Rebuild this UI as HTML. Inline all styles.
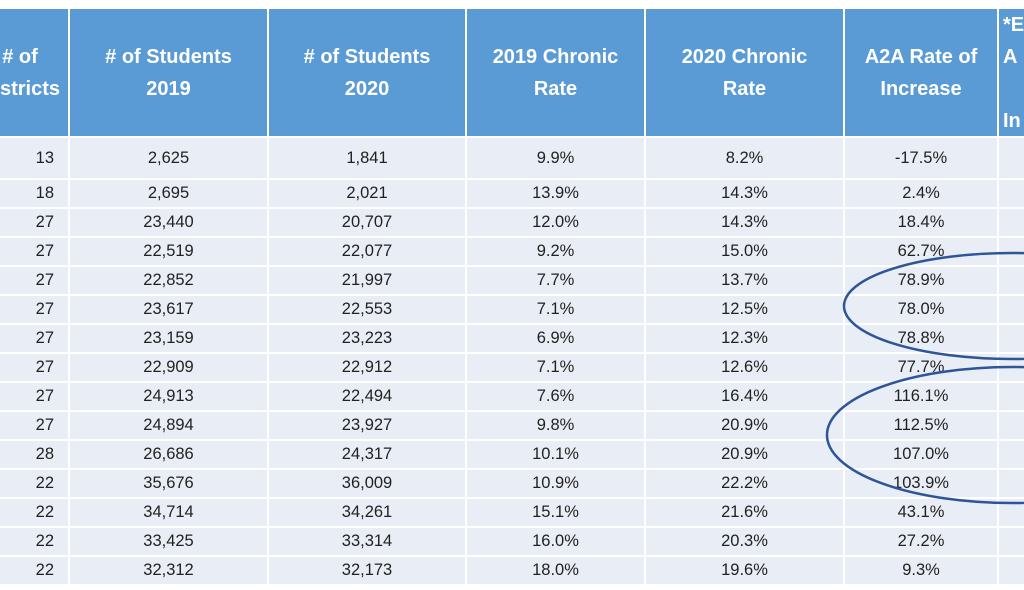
<!DOCTYPE html><html><head><style>
body{margin:0;width:1024px;height:590px;background:#fff;overflow:hidden;position:relative;font-family:"Liberation Sans",sans-serif}
.c{position:absolute;box-sizing:border-box;display:flex;align-items:center;justify-content:center;text-align:center}
.h{background:#5b9bd5;color:#fff;font-weight:bold;font-size:20px;line-height:32px}
.b{background:#e9edf5;color:#222;font-size:16.5px}
</style></head><body>
<div id="t"></div>
<svg style="position:absolute;left:0;top:0" width="1024" height="590">
<ellipse cx="1012" cy="306" rx="168" ry="53" fill="none" stroke="#2e5596" stroke-width="2.5"/>
<ellipse cx="1012" cy="435" rx="185" ry="68" fill="none" stroke="#2e5596" stroke-width="2.5"/>
</svg>
<script>
(function(){
var xs=[-60,70,269,467,646,845,999,1150];
var hd=["# of<br>Districts","# of Students<br>2019","# of Students<br>2020","2019 Chronic<br>Rate","2020 Chronic<br>Rate","A2A Rate of<br>Increase","*E<br>A<br><br>In"];
var d=[["13","2,625","1,841","9.9%","8.2%","-17.5%"],["18","2,695","2,021","13.9%","14.3%","2.4%"],["27","23,440","20,707","12.0%","14.3%","18.4%"],["27","22,519","22,077","9.2%","15.0%","62.7%"],["27","22,852","21,997","7.7%","13.7%","78.9%"],["27","23,617","22,553","7.1%","12.5%","78.0%"],["27","23,159","23,223","6.9%","12.3%","78.8%"],["27","22,909","22,912","7.1%","12.6%","77.7%"],["27","24,913","22,494","7.6%","16.4%","116.1%"],["27","24,894","23,927","9.8%","20.9%","112.5%"],["28","26,686","24,317","10.1%","20.9%","107.0%"],["22","35,676","36,009","10.9%","22.2%","103.9%"],["22","34,714","34,261","15.1%","21.6%","43.1%"],["22","33,425","33,314","16.0%","20.3%","27.2%"],["22","32,312","32,173","18.0%","19.6%","9.3%"]];
var h="";
for(var i=0;i<7;i++){h+='<div class="c h" style="left:'+xs[i]+'px;top:9px;width:'+(xs[i+1]-xs[i]-2)+'px;height:127px;'+(i==6?'justify-content:flex-start;padding-left:4px;text-align:left;':'')+(i==0?'justify-content:flex-end;padding-right:8px;':'')+'">'+hd[i]+'</div>';}
for(var r=0;r<15;r++){var yy=r==0?138:180+(r-1)*29;var ht=r==0?40:27;
for(var i=0;i<7;i++){var tx=i<6?d[r][i]:"";h+='<div class="c b" style="left:'+xs[i]+'px;top:'+yy+'px;width:'+(xs[i+1]-xs[i]-2)+'px;height:'+ht+'px;'+(i==0?'justify-content:flex-end;padding-right:14px;':'')+'">'+tx+'</div>';}}
document.getElementById("t").innerHTML=h;
})();
</script>
</body></html>
